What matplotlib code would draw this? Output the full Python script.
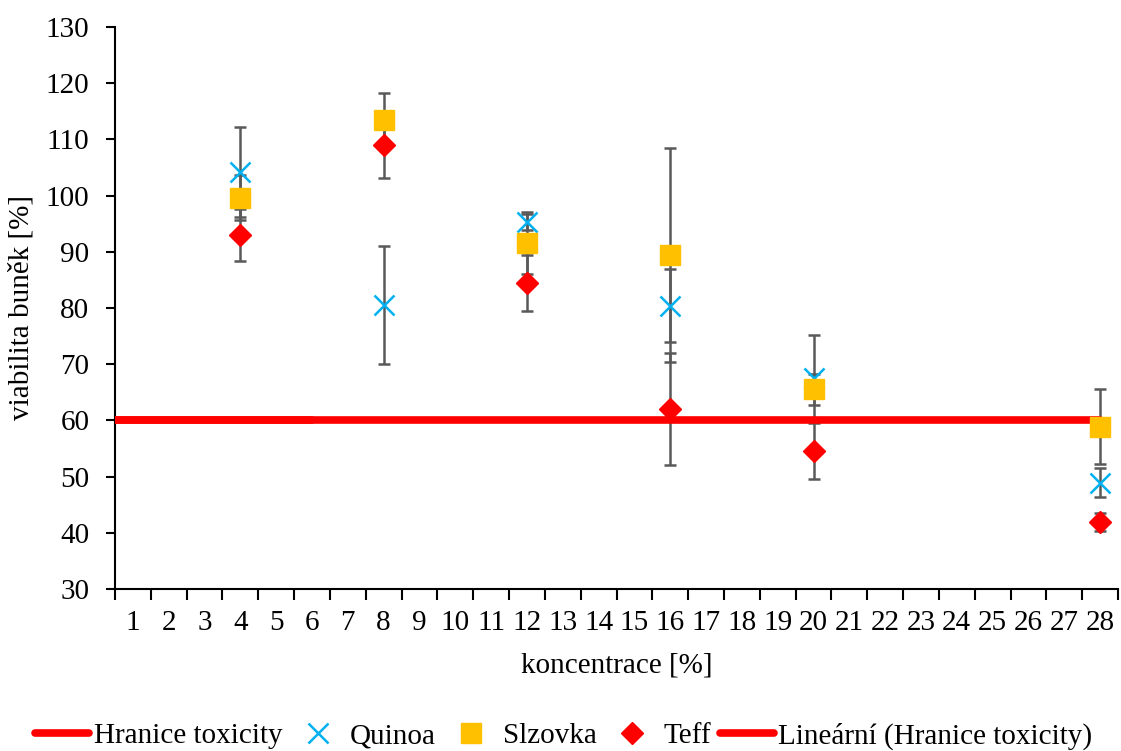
import matplotlib.pyplot as plt
import numpy as np
from matplotlib.ticker import FixedLocator

plt.rcParams['font.family'] = ['Liberation Serif', 'DejaVu Serif']

categories = [str(i) for i in range(1, 29)]
conc = [4, 8, 12, 16, 20, 28]

quinoa = [104.2, 80.5, 95.3, 80.4, 67.6, 48.9]
quinoa_err = [8.0, 10.5, 1.4, 6.5, 7.6, 2.6]
slzovka = [99.6, 113.5, 91.5, 89.4, 65.5, 58.9]
slzovka_err = [4.0, 4.8, 5.5, 19.0, 2.8, 6.7]
teff = [93.0, 109.0, 84.5, 62.0, 54.6, 41.9]
teff_err = [4.7, 5.8, 5.0, 10.0, 5.0, 1.6]

hranice_x = [0.5, 6]
hranice_y = [60, 60]
trend_x = [0.5, 28]
trend_y = [60, 60]

fig = plt.figure(figsize=(11.21, 7.51), dpi=100)
ax = fig.add_axes([115 / 1121, 1 - 589 / 751, 1003 / 1121, 562 / 751])

red = '#ff0000'
err_kw = dict(ecolor='#595959', elinewidth=1.8, capsize=4.5, capthick=1.8, linestyle='none', zorder=2)

ax.errorbar(conc, quinoa, yerr=quinoa_err, **err_kw)
ax.errorbar(conc, slzovka, yerr=slzovka_err, **err_kw)
ax.errorbar(conc, teff, yerr=teff_err, **err_kw)

trend, = ax.plot(trend_x, trend_y, color=red, lw=5.5, solid_capstyle='round', zorder=3,
                 label='Lineární (Hranice toxicity)')
hran, = ax.plot(hranice_x, hranice_y, color=red, lw=5.5, solid_capstyle='round', zorder=3,
                label='Hranice toxicity')
q, = ax.plot(conc, quinoa, 'x', color='#00b0f0', ms=14, mew=1.8, zorder=4, label='Quinoa')
s, = ax.plot(conc, slzovka, 's', color='#ffc000', ms=14, zorder=4, label='Slzovka')
t, = ax.plot(conc, teff, 'D', color=red, ms=11, zorder=4, label='Teff')

ax.set_xlim(0.5, 28.5)
ax.set_ylim(30, 130)
ax.set_yticks(np.arange(30, 131, 10))
ax.set_xticks(range(1, 29))
ax.set_xticklabels(categories)
ax.xaxis.set_minor_locator(FixedLocator(np.arange(0.5, 29, 1)))
ax.tick_params(axis='x', which='major', length=0, pad=15, labelsize=21)
ax.tick_params(axis='x', which='minor', length=8, width=1.5, direction='out')
ax.tick_params(axis='y', length=6.5, width=1.5, pad=12, labelsize=21)

for sp in ['top', 'right']:
    ax.spines[sp].set_visible(False)
for sp in ['left', 'bottom']:
    ax.spines[sp].set_linewidth(1.5)

ax.set_xlabel('koncentrace [%]', fontsize=21, labelpad=12)
ax.set_ylabel('viabilita buněk [%]', fontsize=21, labelpad=8)

fig.legend(handles=[hran, q, s, t, trend], loc='center', bbox_to_anchor=(0.503, 1 - 736 / 751),
           ncol=5, frameon=False, fontsize=21, handlelength=1.85, handletextpad=0.15,
           columnspacing=0.3, borderaxespad=0)

fig.savefig('out.png', dpi=100)
